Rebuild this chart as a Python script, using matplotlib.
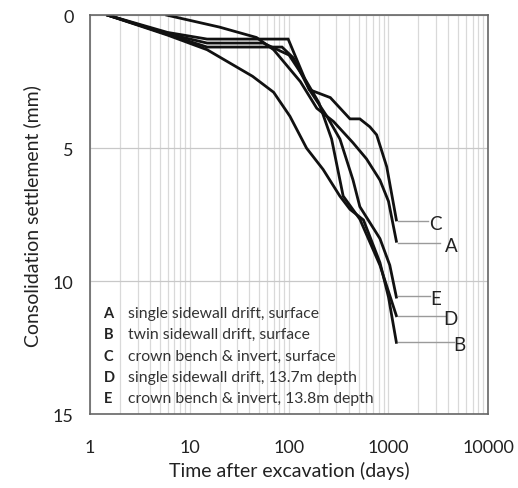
import numpy as np
import matplotlib.pyplot as plt
from matplotlib.ticker import FixedLocator, NullFormatter

plt.rcParams['font.family'] = ['Lato', 'DejaVu Sans']

# 曲线数据 (天, mm)
days_a = [5.9, 20, 47, 70, 130, 190, 280, 440, 600, 820, 1000, 1200]
sett_a = [0.0, 0.45, 0.84, 1.3, 2.5, 3.5, 4.0, 4.8, 5.4, 6.2, 7.0, 8.5]

days_b = [1.5, 6, 15, 43, 70, 102, 150, 220, 324, 410, 560, 820, 1000, 1200]
sett_b = [0.0, 0.75, 1.3, 2.3, 2.9, 3.8, 5.0, 5.8, 6.8, 7.3, 7.7, 9.3, 10.6, 12.3]

days_c = [1.5, 6, 15, 98, 160, 260, 410, 515, 650, 760, 960, 1200]
sett_c = [0.0, 0.65, 0.9, 0.9, 2.8, 3.1, 3.9, 3.9, 4.2, 4.5, 5.7, 7.7]

days_d = [1.5, 6, 15, 55, 100, 150, 200, 268, 350, 515, 820, 1200]
sett_d = [0.0, 0.7, 1.05, 1.05, 1.5, 2.5, 3.3, 4.66, 6.8, 7.67, 9.4, 11.3]

days_e = [1.5, 6, 15, 85, 110, 160, 240, 325, 440, 515, 820, 1030, 1200]
sett_e = [0.0, 0.72, 1.2, 1.2, 1.6, 2.8, 3.8, 4.66, 6.2, 7.2, 8.4, 9.4, 10.6]

curves = [(days_a, sett_a), (days_b, sett_b), (days_c, sett_c),
          (days_d, sett_d), (days_e, sett_e)]

# 标注: 字母, 引线末端, 文字位置
end_labels = ['C', 'A', 'E', 'D', 'B']
end_y = [7.73, 8.55, 10.55, 11.3, 12.3]
leader_x1 = [2500, 3300, 2600, 3700, 4600]
label_x = [2950, 4300, 2950, 4200, 5200]

legend_keys = ['A', 'B', 'C', 'D', 'E']
legend_texts = ['single sidewall drift, surface',
                'twin sidewall drift, surface',
                'crown bench & invert, surface',
                'single sidewall drift, 13.7m depth',
                'crown bench & invert, 13.8m depth']

fig = plt.figure(figsize=(5.18, 4.89), dpi=100)
ax = fig.add_axes([0.174, 0.151, 0.768, 0.816])

ax.set_xscale('log')
ax.set_xlim(1, 10000)
ax.set_ylim(15, 0)

# 网格
ax.xaxis.set_minor_locator(FixedLocator([m * 10 ** k for k in range(4) for m in range(2, 10)]))
ax.xaxis.set_minor_formatter(NullFormatter())
ax.set_xticks([1, 10, 100, 1000, 10000])
ax.set_xticklabels(['1', '10', '100', '1000', '10000'])
ax.set_yticks([0, 5, 10, 15])
ax.grid(True, which='both', axis='x', color='#d9d9d9', linewidth=0.9)
ax.grid(True, which='major', axis='y', color='#c8c8c8', linewidth=0.9)
ax.set_axisbelow(True)
ax.tick_params(which='both', length=0, labelsize=13, colors='#222222')
ax.tick_params(axis='x', pad=18)
ax.tick_params(axis='y', pad=12)

for d, s in curves:
    ax.plot(d, s, color='#111111', linewidth=2.0, solid_joinstyle='miter')

for lab, y, x1, lx in zip(end_labels, end_y, leader_x1, label_x):
    ax.plot([1250, x1], [y, y], color='#9a9a9a', linewidth=1.0)
    ax.text(lx, y + 0.1, lab, fontsize=13.5, ha='center', va='center', color='#222222')

for i, (k, t) in enumerate(zip(legend_keys, legend_texts)):
    yy = 11.2 + i * 0.8
    ax.text(1.36, yy, k, fontsize=10.5, fontweight='bold', ha='left', va='center', color='#222222')
    ax.text(2.4, yy, t, fontsize=11.3, ha='left', va='center', color='#333333')

for sp in ax.spines.values():
    sp.set_color('#666666')
    sp.set_linewidth(1.2)

ax.set_xlabel('Time after excavation (days)', fontsize=14, color='#222222', labelpad=4)
ax.set_ylabel('Consolidation settlement (mm)', fontsize=14, color='#222222', labelpad=8)

fig.savefig('out.png', dpi=100)
